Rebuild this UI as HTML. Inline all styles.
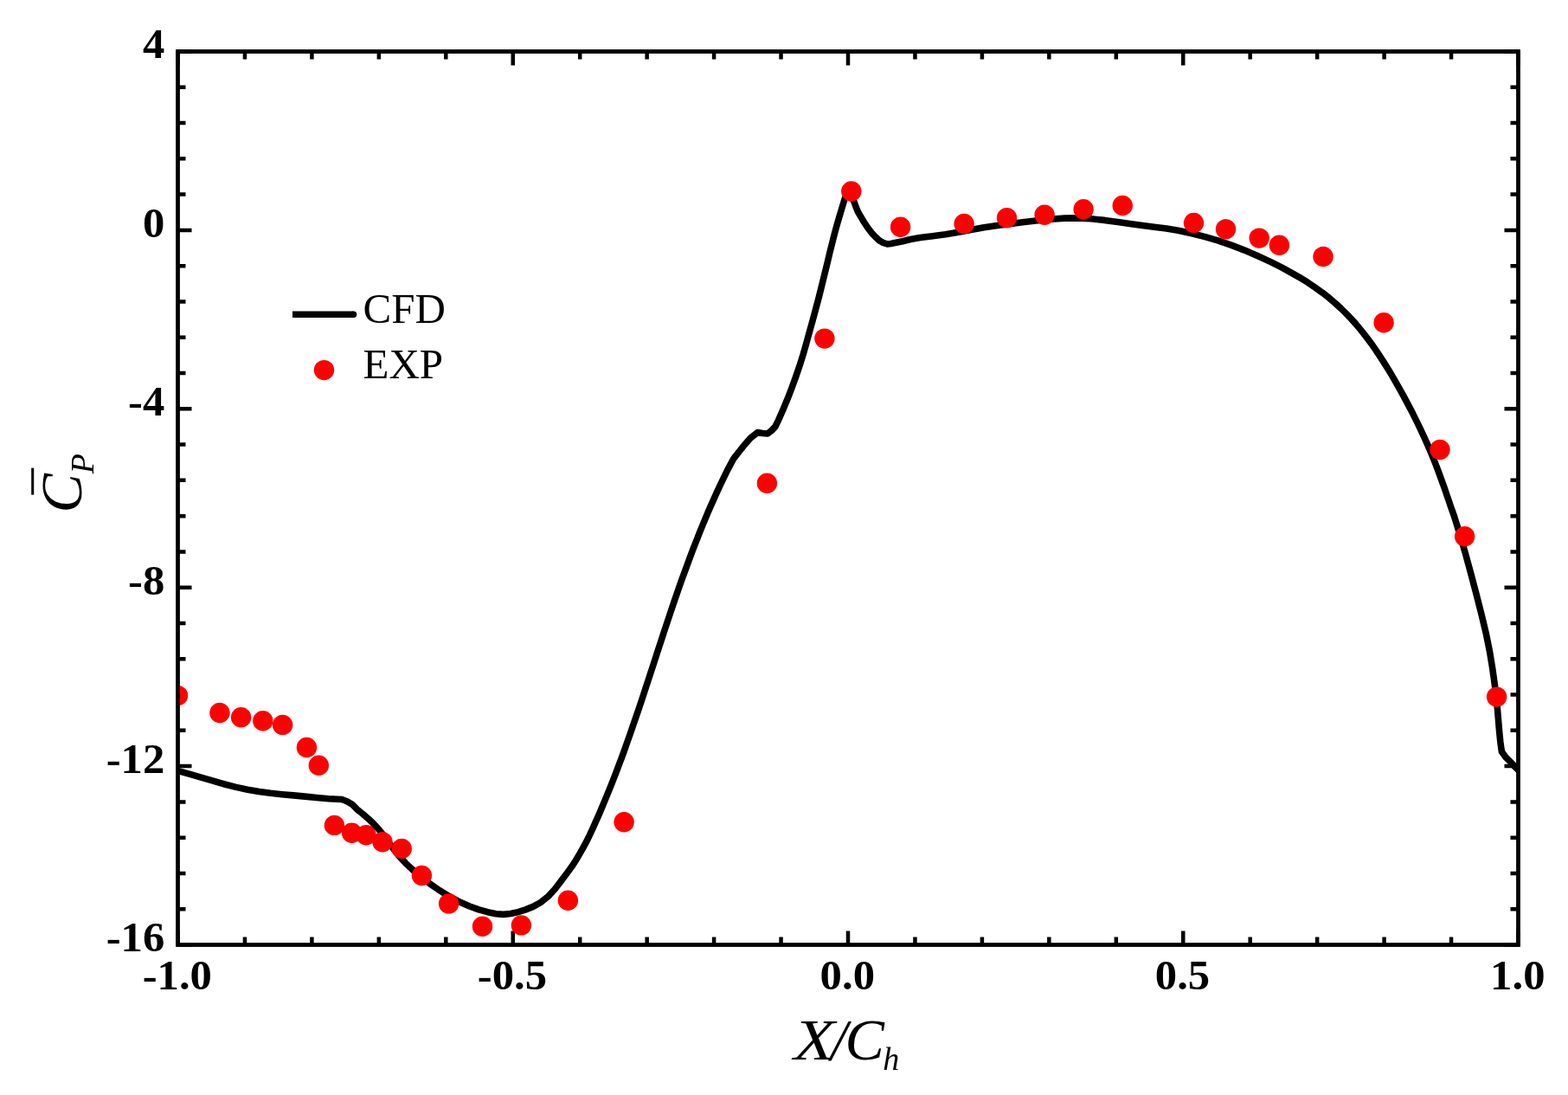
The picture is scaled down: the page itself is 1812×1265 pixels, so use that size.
<!DOCTYPE html><html><head><meta charset="utf-8"><title>Cp distribution</title><style>html,body{margin:0;padding:0;background:#fff;overflow:hidden}svg{display:block}</style></head><body>
<svg width="1812" height="1265" viewBox="0 0 1812 1265">
<rect width="1812" height="1265" fill="#fff"/>
<defs><clipPath id="pc"><rect x="205.5" y="59.5" width="1549.0" height="1032.0"/></clipPath></defs>
<path d="M205.50 1091.5V1075.5M205.50 59.5V75.5M282.95 1091.5V1082.5M282.95 59.5V68.5M360.40 1091.5V1082.5M360.40 59.5V68.5M437.85 1091.5V1082.5M437.85 59.5V68.5M515.30 1091.5V1082.5M515.30 59.5V68.5M592.75 1091.5V1075.5M592.75 59.5V75.5M670.20 1091.5V1082.5M670.20 59.5V68.5M747.65 1091.5V1082.5M747.65 59.5V68.5M825.10 1091.5V1082.5M825.10 59.5V68.5M902.55 1091.5V1082.5M902.55 59.5V68.5M980.00 1091.5V1075.5M980.00 59.5V75.5M1057.45 1091.5V1082.5M1057.45 59.5V68.5M1134.90 1091.5V1082.5M1134.90 59.5V68.5M1212.35 1091.5V1082.5M1212.35 59.5V68.5M1289.80 1091.5V1082.5M1289.80 59.5V68.5M1367.25 1091.5V1075.5M1367.25 59.5V75.5M1444.70 1091.5V1082.5M1444.70 59.5V68.5M1522.15 1091.5V1082.5M1522.15 59.5V68.5M1599.60 1091.5V1082.5M1599.60 59.5V68.5M1677.05 1091.5V1082.5M1677.05 59.5V68.5M1754.50 1091.5V1075.5M1754.50 59.5V75.5M205.5 59.50H221.5M1754.5 59.50H1738.5M205.5 100.78H214.5M1754.5 100.78H1745.5M205.5 142.06H214.5M1754.5 142.06H1745.5M205.5 183.34H214.5M1754.5 183.34H1745.5M205.5 224.62H214.5M1754.5 224.62H1745.5M205.5 265.90H221.5M1754.5 265.90H1738.5M205.5 307.18H214.5M1754.5 307.18H1745.5M205.5 348.46H214.5M1754.5 348.46H1745.5M205.5 389.74H214.5M1754.5 389.74H1745.5M205.5 431.02H214.5M1754.5 431.02H1745.5M205.5 472.30H221.5M1754.5 472.30H1738.5M205.5 513.58H214.5M1754.5 513.58H1745.5M205.5 554.86H214.5M1754.5 554.86H1745.5M205.5 596.14H214.5M1754.5 596.14H1745.5M205.5 637.42H214.5M1754.5 637.42H1745.5M205.5 678.70H221.5M1754.5 678.70H1738.5M205.5 719.98H214.5M1754.5 719.98H1745.5M205.5 761.26H214.5M1754.5 761.26H1745.5M205.5 802.54H214.5M1754.5 802.54H1745.5M205.5 843.82H214.5M1754.5 843.82H1745.5M205.5 885.10H221.5M1754.5 885.10H1738.5M205.5 926.38H214.5M1754.5 926.38H1745.5M205.5 967.66H214.5M1754.5 967.66H1745.5M205.5 1008.94H214.5M1754.5 1008.94H1745.5M205.5 1050.22H214.5M1754.5 1050.22H1745.5M205.5 1091.50H221.5M1754.5 1091.50H1738.5" stroke="#000" stroke-width="4.5" fill="none"/>
<g clip-path="url(#pc)"><polyline points="205.5,890.6 207.9,891.2 220.4,894.7 233.2,898.4 246.4,902.2 259.6,906.0 272.8,909.4 286.1,912.2 299.3,914.5 312.6,916.3 325.8,917.7 339.1,918.9 352.3,920.1 365.8,921.5 379.9,922.7 395.0,923.5 400.9,925.7 406.9,929.2 412.8,935.2 418.7,939.9 425.0,945.3 430.9,950.8 436.8,957.1 443.8,965.7 452.0,977.0 460.5,988.1 468.5,996.9 476.6,1004.5 485.8,1012.4 496.3,1020.6 507.7,1028.5 519.5,1035.7 531.3,1042.0 542.7,1047.0 553.4,1050.8 563.6,1053.7 573.3,1055.7 582.0,1056.4 590.2,1055.5 598.7,1053.6 607.4,1050.9 616.1,1047.4 624.8,1042.5 633.4,1035.6 641.6,1026.7 648.9,1017.1 655.4,1008.5 660.8,1001.1 665.4,994.0 669.6,986.9 673.6,979.8 677.5,972.7 681.0,965.6 685.2,956.6 689.2,947.6 693.2,938.6 697.0,929.6 700.7,920.6 704.4,911.6 708.0,902.6 711.5,893.6 714.9,884.6 718.3,875.6 721.6,866.6 724.8,857.6 728.0,848.6 731.1,839.6 734.2,830.6 737.3,821.6 740.3,812.6 743.3,803.6 746.2,794.6 749.2,785.6 752.1,776.6 755.1,767.6 758.0,758.6 760.9,749.6 763.9,740.6 766.8,731.6 769.8,722.6 772.8,713.6 775.8,704.6 778.9,695.6 782.0,686.6 785.1,677.6 788.3,668.6 791.6,659.6 794.9,650.6 798.2,641.6 801.6,632.6 805.2,623.6 808.7,614.6 812.4,605.6 816.2,596.6 820.0,587.6 824.0,578.6 828.0,569.6 832.2,560.6 836.5,551.6 840.9,542.6 847.8,529.8 854.3,521.5 861.0,513.2 867.3,506.1 875.6,499.6 881.0,500.5 887.0,501.0 891.5,497.5 895.8,493.0 899.5,485.6 905.0,472.9 910.3,460.3 915.2,447.6 919.8,434.9 924.1,422.3 928.1,409.6 931.7,397.0 935.2,384.3 938.7,371.7 942.0,359.5 945.1,348.0 947.9,337.0 950.6,326.1 953.3,315.1 956.0,304.1 958.6,293.0 961.4,281.9 964.2,270.9 967.2,259.8 970.4,248.9 973.5,238.5 976.5,228.8 980.3,221.0 983.8,226.0 986.9,232.8 989.0,238.7 991.4,244.6 994.9,250.6 998.4,256.5 1002.3,262.4 1006.7,268.3 1012.3,274.3 1016.5,278.1 1020.5,280.3 1025.4,282.0 1029.5,281.4 1034.3,280.5 1043.2,278.7 1052.1,276.5 1063.5,274.5 1077.8,272.7 1092.8,270.7 1107.4,268.3 1122.0,265.5 1137.3,262.8 1152.7,260.5 1168.2,258.5 1183.6,256.6 1199.1,254.8 1214.5,253.2 1230.0,252.1 1245.4,251.9 1260.9,252.8 1276.4,254.4 1291.8,256.5 1307.3,258.8 1322.2,260.8 1335.6,262.4 1348.0,264.0 1361.4,266.3 1376.4,269.5 1391.8,273.4 1407.3,277.9 1422.7,283.1 1438.2,289.1 1453.6,295.7 1468.5,302.6 1481.0,308.9 1490.5,314.1 1501.1,320.1 1510.9,326.1 1519.8,332.1 1528.1,338.1 1535.8,344.1 1542.8,350.1 1549.4,356.1 1555.5,362.1 1561.3,368.1 1566.7,374.1 1571.7,380.1 1576.5,386.1 1581.1,392.1 1585.5,398.1 1589.7,404.1 1593.7,410.1 1597.6,416.1 1601.4,422.1 1605.1,428.1 1608.7,434.1 1612.2,440.1 1615.6,446.1 1619.0,452.1 1622.3,458.1 1625.5,464.1 1628.7,470.1 1631.8,476.1 1634.8,482.1 1637.8,488.1 1640.7,494.1 1643.5,500.1 1646.3,506.1 1649.0,512.1 1651.6,518.1 1654.1,524.1 1656.6,530.1 1659.0,536.1 1661.3,542.1 1663.5,548.1 1665.7,554.1 1667.9,560.1 1670.0,566.1 1672.0,572.1 1674.1,578.1 1676.1,584.1 1678.2,590.1 1680.4,596.1 1686.8,616.7 1692.9,637.5 1699.0,659.8 1705.5,684.3 1712.0,709.7 1717.6,733.2 1721.7,753.8 1724.6,771.5 1726.9,787.8 1728.9,804.0 1730.5,819.3 1731.6,832.7 1732.6,844.9 1733.8,856.7 1735.4,868.4 1740.0,874.8 1745.7,880.4 1750.5,885.6 1754.5,889.5" fill="none" stroke="#000" stroke-width="7.6" stroke-linejoin="round" stroke-linecap="round"/>
<circle cx="205.5" cy="803.6" r="11.7" fill="#f00"/>
<circle cx="253.9" cy="823.5" r="11.7" fill="#f00"/>
<circle cx="278.6" cy="828.7" r="11.7" fill="#f00"/>
<circle cx="303.8" cy="832.7" r="11.7" fill="#f00"/>
<circle cx="326.6" cy="837.4" r="11.7" fill="#f00"/>
<circle cx="354.4" cy="863.5" r="11.7" fill="#f00"/>
<circle cx="368.3" cy="884.3" r="11.7" fill="#f00"/>
<circle cx="386.4" cy="953.4" r="11.7" fill="#f00"/>
<circle cx="406.6" cy="962.3" r="11.7" fill="#f00"/>
<circle cx="423.1" cy="964.7" r="11.7" fill="#f00"/>
<circle cx="442.0" cy="972.7" r="11.7" fill="#f00"/>
<circle cx="464.2" cy="980.5" r="11.7" fill="#f00"/>
<circle cx="487.4" cy="1011.5" r="11.7" fill="#f00"/>
<circle cx="518.6" cy="1043.9" r="11.7" fill="#f00"/>
<circle cx="557.5" cy="1070.3" r="11.7" fill="#f00"/>
<circle cx="602.4" cy="1068.9" r="11.7" fill="#f00"/>
<circle cx="656.4" cy="1040.3" r="11.7" fill="#f00"/>
<circle cx="721.1" cy="949.7" r="11.7" fill="#f00"/>
<circle cx="886.4" cy="558.3" r="11.7" fill="#f00"/>
<circle cx="952.9" cy="391.1" r="11.7" fill="#f00"/>
<circle cx="983.8" cy="221.0" r="11.7" fill="#f00"/>
<circle cx="1040.6" cy="262.2" r="11.7" fill="#f00"/>
<circle cx="1114.1" cy="258.4" r="11.7" fill="#f00"/>
<circle cx="1163.5" cy="251.7" r="11.7" fill="#f00"/>
<circle cx="1207.1" cy="248.3" r="11.7" fill="#f00"/>
<circle cx="1252.1" cy="241.7" r="11.7" fill="#f00"/>
<circle cx="1297.2" cy="237.5" r="11.7" fill="#f00"/>
<circle cx="1379.5" cy="257.5" r="11.7" fill="#f00"/>
<circle cx="1416.5" cy="264.8" r="11.7" fill="#f00"/>
<circle cx="1455.2" cy="275.1" r="11.7" fill="#f00"/>
<circle cx="1478.4" cy="283.3" r="11.7" fill="#f00"/>
<circle cx="1529.0" cy="296.5" r="11.7" fill="#f00"/>
<circle cx="1599.1" cy="372.7" r="11.7" fill="#f00"/>
<circle cx="1664.0" cy="519.5" r="11.7" fill="#f00"/>
<circle cx="1692.6" cy="619.7" r="11.7" fill="#f00"/>
<circle cx="1729.6" cy="805.1" r="11.7" fill="#f00"/>
</g>
<rect x="205.5" y="59.5" width="1549.0" height="1032.0" fill="none" stroke="#000" stroke-width="4.8"/>
<text transform="translate(204.8,1143.2) scale(1.035,1)" text-anchor="middle" font-family="Liberation Serif, serif" font-weight="bold" font-size="49">-1.0</text>
<text transform="translate(592.0,1143.2) scale(1.035,1)" text-anchor="middle" font-family="Liberation Serif, serif" font-weight="bold" font-size="49">-0.5</text>
<text transform="translate(979.3,1143.2) scale(1.035,1)" text-anchor="middle" font-family="Liberation Serif, serif" font-weight="bold" font-size="49">0.0</text>
<text transform="translate(1366.5,1143.2) scale(1.035,1)" text-anchor="middle" font-family="Liberation Serif, serif" font-weight="bold" font-size="49">0.5</text>
<text transform="translate(1753.8,1143.2) scale(1.035,1)" text-anchor="middle" font-family="Liberation Serif, serif" font-weight="bold" font-size="49">1.0</text>
<text transform="translate(190.3,67.3) scale(1.035,1)" text-anchor="end" font-family="Liberation Serif, serif" font-weight="bold" font-size="49">4</text>
<text transform="translate(190.3,273.7) scale(1.035,1)" text-anchor="end" font-family="Liberation Serif, serif" font-weight="bold" font-size="49">0</text>
<text transform="translate(190.3,480.1) scale(1.035,1)" text-anchor="end" font-family="Liberation Serif, serif" font-weight="bold" font-size="49">-4</text>
<text transform="translate(190.3,686.5) scale(1.035,1)" text-anchor="end" font-family="Liberation Serif, serif" font-weight="bold" font-size="49">-8</text>
<text transform="translate(190.3,892.9) scale(1.035,1)" text-anchor="end" font-family="Liberation Serif, serif" font-weight="bold" font-size="49">-12</text>
<text transform="translate(190.3,1099.3) scale(1.035,1)" text-anchor="end" font-family="Liberation Serif, serif" font-weight="bold" font-size="49">-16</text>
<text transform="translate(917.25,1223.6) scale(1.15,1)" font-family="Liberation Serif, serif" font-style="italic" font-size="68">X</text>
<text x="960" y="1223.6" font-family="Liberation Serif, serif" font-style="italic" font-size="68">/</text>
<text x="976.4" y="1223.6" font-family="Liberation Serif, serif" font-style="italic" font-size="68">C</text>
<text x="1020.3" y="1236.1" font-family="Liberation Serif, serif" font-style="italic" font-size="38">h</text>
<g transform="translate(93.5,592.5) rotate(-90)"><text x="0" y="0" font-family="Liberation Serif, serif" font-style="italic" font-size="68">C<tspan font-size="38" dy="14">P</tspan></text></g>
<rect x="36.2" y="540.6" width="3" height="31" fill="#000"/>
<path d="M338 363.3H408" stroke="#000" stroke-width="7.5" fill="none"/><circle cx="408.5" cy="363.3" r="3.75" fill="#000"/>
<text x="419.5" y="373" font-family="Liberation Serif, serif" font-size="49">CFD</text>
<circle cx="374.5" cy="427.6" r="11.7" fill="#f00"/>
<text x="419.5" y="436.5" font-family="Liberation Serif, serif" font-size="49">EXP</text>
</svg></body></html>
